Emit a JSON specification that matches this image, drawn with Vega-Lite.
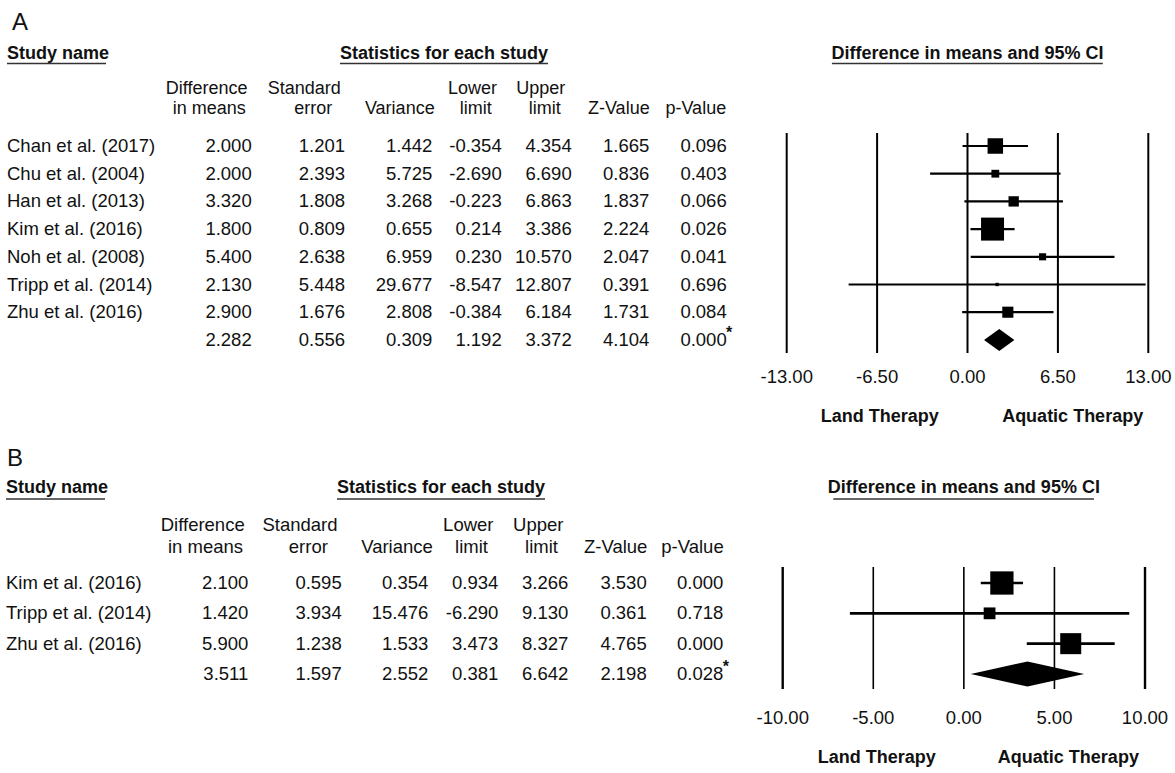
{
  "$schema": "https://vega.github.io/schema/vega-lite/v6.json",
  "padding": 0,
  "spacing": 0,
  "background": "white",
  "config": {
    "view": {"stroke": null},
    "mark": {"color": "black"},
    "text": {"font": "Liberation Sans", "fontSize": 18.5, "baseline": "middle", "color": "#111111"},
    "axis": {"disable": true},
    "legend": {"disable": true},
    "locale": {"number": {"decimal": ".", "thousands": ",", "grouping": [3], "currency": ["$", ""], "minus": "-"}}
  },
  "datasets": {
    "one": [{}],
    "A": [
      {"study": "Chan et al. (2017)", "diff": 2.000, "se": 1.201, "var": 1.442, "lower": -0.354, "upper": 4.354, "z": 1.665, "p": 0.096, "weight": 21.4, "summary": false},
      {"study": "Chu et al. (2004)", "diff": 2.000, "se": 2.393, "var": 5.725, "lower": -2.690, "upper": 6.690, "z": 0.836, "p": 0.403, "weight": 5.4, "summary": false},
      {"study": "Han et al. (2013)", "diff": 3.320, "se": 1.808, "var": 3.268, "lower": -0.223, "upper": 6.863, "z": 1.837, "p": 0.066, "weight": 9.5, "summary": false},
      {"study": "Kim et al. (2016)", "diff": 1.800, "se": 0.809, "var": 0.655, "lower": 0.214, "upper": 3.386, "z": 2.224, "p": 0.026, "weight": 47.2, "summary": false},
      {"study": "Noh et al. (2008)", "diff": 5.400, "se": 2.638, "var": 6.959, "lower": 0.230, "upper": 10.570, "z": 2.047, "p": 0.041, "weight": 4.5, "summary": false},
      {"study": "Tripp et al. (2014)", "diff": 2.130, "se": 5.448, "var": 29.677, "lower": -8.547, "upper": 12.807, "z": 0.391, "p": 0.696, "weight": 1.0, "summary": false},
      {"study": "Zhu et al. (2016)", "diff": 2.900, "se": 1.676, "var": 2.808, "lower": -0.384, "upper": 6.184, "z": 1.731, "p": 0.084, "weight": 11.0, "summary": false},
      {"study": "", "diff": 2.282, "se": 0.556, "var": 0.309, "lower": 1.192, "upper": 3.372, "z": 4.104, "p": 0.000, "sig": "*", "summary": true}
    ],
    "B": [
      {"study": "Kim et al. (2016)", "diff": 2.100, "se": 0.595, "var": 0.354, "lower": 0.934, "upper": 3.266, "z": 3.530, "p": 0.000, "weight": 48.3, "summary": false},
      {"study": "Tripp et al. (2014)", "diff": 1.420, "se": 3.934, "var": 15.476, "lower": -6.290, "upper": 9.130, "z": 0.361, "p": 0.718, "weight": 12.4, "summary": false},
      {"study": "Zhu et al. (2016)", "diff": 5.900, "se": 1.238, "var": 1.533, "lower": 3.473, "upper": 8.327, "z": 4.765, "p": 0.000, "weight": 39.4, "summary": false},
      {"study": "", "diff": 3.511, "se": 1.597, "var": 2.552, "lower": 0.381, "upper": 6.642, "z": 2.198, "p": 0.028, "sig": "*", "summary": true}
    ],
    "ticksA": [{"t": -13}, {"t": -6.5}, {"t": 0}, {"t": 6.5}, {"t": 13}],
    "ticksB": [{"t": -10}, {"t": -5}, {"t": 0}, {"t": 5}, {"t": 10}]
  },
  "vconcat": [
    {
      "width": 1175,
      "height": 440,
      "resolve": {"scale": {"x": "independent"}},
      "layer": [
        {
          "layer": [
            {"data": {"name": "one"}, "mark": {"type": "text", "align": "left", "fontSize": 24}, "encoding": {"x": {"datum": 12, "type": "quantitative", "scale": {"domain": [0, 1175], "nice": false, "zero": false}}, "y": {"datum": -3.4404, "type": "quantitative", "scale": {"domain": [-4.2708, 11.6137], "reverse": true, "nice": false, "zero": false}}, "text": {"value": "A"}}},
            {"data": {"name": "one"}, "mark": {"type": "text", "align": "left", "fontWeight": "bold", "fontSize": 18}, "encoding": {"x": {"datum": 7, "type": "quantitative"}, "y": {"datum": -2.3213, "type": "quantitative"}, "text": {"value": "Study name"}}},
            {"data": {"name": "one"}, "mark": {"type": "rule", "strokeWidth": 1.5, "color": "#333333"}, "encoding": {"x": {"datum": 7, "type": "quantitative"}, "x2": {"datum": 106}, "y": {"datum": -1.9783, "type": "quantitative"}}},
            {"data": {"name": "one"}, "mark": {"type": "text", "fontWeight": "bold", "fontSize": 18}, "encoding": {"x": {"datum": 444, "type": "quantitative"}, "y": {"datum": -2.3213, "type": "quantitative"}, "text": {"value": "Statistics for each study"}}},
            {"data": {"name": "one"}, "mark": {"type": "rule", "strokeWidth": 1.5, "color": "#333333"}, "encoding": {"x": {"datum": 340, "type": "quantitative"}, "x2": {"datum": 548}, "y": {"datum": -1.9783, "type": "quantitative"}}},
            {"data": {"name": "one"}, "mark": {"type": "text", "fontSize": 18}, "encoding": {"x": {"datum": 206.7, "type": "quantitative"}, "y": {"datum": -1.0578, "type": "quantitative"}, "text": {"value": "Difference"}}},
            {"data": {"name": "one"}, "mark": {"type": "text", "fontSize": 18}, "encoding": {"x": {"datum": 209.2, "type": "quantitative"}, "y": {"datum": -0.3538, "type": "quantitative"}, "text": {"value": "in means"}}},
            {"data": {"name": "one"}, "mark": {"type": "text", "fontSize": 18}, "encoding": {"x": {"datum": 304.2, "type": "quantitative"}, "y": {"datum": -1.0578, "type": "quantitative"}, "text": {"value": "Standard"}}},
            {"data": {"name": "one"}, "mark": {"type": "text", "fontSize": 18}, "encoding": {"x": {"datum": 313.3, "type": "quantitative"}, "y": {"datum": -0.3538, "type": "quantitative"}, "text": {"value": "error"}}},
            {"data": {"name": "one"}, "mark": {"type": "text", "fontSize": 18}, "encoding": {"x": {"datum": 399.8, "type": "quantitative"}, "y": {"datum": -0.3538, "type": "quantitative"}, "text": {"value": "Variance"}}},
            {"data": {"name": "one"}, "mark": {"type": "text", "fontSize": 18}, "encoding": {"x": {"datum": 472.5, "type": "quantitative"}, "y": {"datum": -1.0578, "type": "quantitative"}, "text": {"value": "Lower"}}},
            {"data": {"name": "one"}, "mark": {"type": "text", "fontSize": 18}, "encoding": {"x": {"datum": 475.8, "type": "quantitative"}, "y": {"datum": -0.3538, "type": "quantitative"}, "text": {"value": "limit"}}},
            {"data": {"name": "one"}, "mark": {"type": "text", "fontSize": 18}, "encoding": {"x": {"datum": 540.8, "type": "quantitative"}, "y": {"datum": -1.0578, "type": "quantitative"}, "text": {"value": "Upper"}}},
            {"data": {"name": "one"}, "mark": {"type": "text", "fontSize": 18}, "encoding": {"x": {"datum": 544.7, "type": "quantitative"}, "y": {"datum": -0.3538, "type": "quantitative"}, "text": {"value": "limit"}}},
            {"data": {"name": "one"}, "mark": {"type": "text", "fontSize": 18}, "encoding": {"x": {"datum": 618.8, "type": "quantitative"}, "y": {"datum": -0.3538, "type": "quantitative"}, "text": {"value": "Z-Value"}}},
            {"data": {"name": "one"}, "mark": {"type": "text", "fontSize": 18}, "encoding": {"x": {"datum": 695.8, "type": "quantitative"}, "y": {"datum": -0.3538, "type": "quantitative"}, "text": {"value": "p-Value"}}},
            {
              "data": {"name": "A"},
              "transform": [{"window": [{"op": "row_number", "as": "row"}]}],
              "encoding": {"y": {"field": "row", "type": "quantitative"}},
              "layer": [
                {"mark": {"type": "text", "align": "left"}, "encoding": {"x": {"datum": 7, "type": "quantitative"}, "text": {"field": "study", "type": "nominal"}}},
                {"mark": {"type": "text", "align": "right"}, "encoding": {"x": {"datum": 251.7, "type": "quantitative"}, "text": {"field": "diff", "type": "quantitative", "format": ".3f"}}},
                {"mark": {"type": "text", "align": "right"}, "encoding": {"x": {"datum": 345, "type": "quantitative"}, "text": {"field": "se", "type": "quantitative", "format": ".3f"}}},
                {"mark": {"type": "text", "align": "right"}, "encoding": {"x": {"datum": 432.3, "type": "quantitative"}, "text": {"field": "var", "type": "quantitative", "format": ".3f"}}},
                {"mark": {"type": "text", "align": "right"}, "encoding": {"x": {"datum": 501.7, "type": "quantitative"}, "text": {"field": "lower", "type": "quantitative", "format": ".3f"}}},
                {"mark": {"type": "text", "align": "right"}, "encoding": {"x": {"datum": 571.7, "type": "quantitative"}, "text": {"field": "upper", "type": "quantitative", "format": ".3f"}}},
                {"mark": {"type": "text", "align": "right"}, "encoding": {"x": {"datum": 649.3, "type": "quantitative"}, "text": {"field": "z", "type": "quantitative", "format": ".3f"}}},
                {"mark": {"type": "text", "align": "right"}, "encoding": {"x": {"datum": 726.7, "type": "quantitative"}, "text": {"field": "p", "type": "quantitative", "format": ".3f"}}},
                {"transform": [{"filter": "datum.summary"}], "mark": {"type": "text", "align": "left", "fontSize": 16, "fontWeight": "bold", "dy": -7}, "encoding": {"x": {"datum": 726, "type": "quantitative"}, "text": {"field": "sig", "type": "nominal"}}}
              ]
            }
          ]
        },
        {
          "layer": [
            {"data": {"name": "ticksA"}, "mark": {"type": "rule", "strokeWidth": 2, "color": "black"}, "encoding": {"x": {"field": "t", "type": "quantitative", "scale": {"domain": [-13, 13], "range": [786.7, 1148.3], "nice": false, "zero": false}}, "y": {"datum": 0.5307, "type": "quantitative", "scale": {"domain": [-4.2708, 11.6137], "reverse": true, "nice": false, "zero": false}}, "y2": {"datum": 8.4729}}},
            {"data": {"name": "ticksA"}, "mark": {"type": "text"}, "encoding": {"x": {"field": "t", "type": "quantitative"}, "y": {"datum": 9.3394, "type": "quantitative"}, "text": {"field": "t", "type": "quantitative", "format": ".2f"}}},
            {"data": {"name": "A"}, "transform": [{"window": [{"op": "row_number", "as": "row"}]}, {"filter": "!datum.summary"}], "mark": {"type": "rule", "strokeWidth": 2.2, "color": "black"}, "encoding": {"x": {"field": "lower", "type": "quantitative"}, "x2": {"field": "upper"}, "y": {"field": "row", "type": "quantitative"}}},
            {"data": {"name": "A"}, "transform": [{"window": [{"op": "row_number", "as": "row"}]}, {"filter": "!datum.summary"}], "mark": {"type": "square", "filled": true, "color": "black", "opacity": 1}, "encoding": {"x": {"field": "diff", "type": "quantitative"}, "y": {"field": "row", "type": "quantitative"}, "size": {"field": "weight", "type": "quantitative", "scale": {"domain": [0, 100], "range": [0, 1121], "zero": true}, "legend": null}}},
            {"data": {"name": "A"}, "transform": [{"window": [{"op": "row_number", "as": "row"}]}, {"filter": "datum.summary"}], "mark": {"type": "point", "shape": "M-1,0L0,-0.726L1,0L0,0.726Z", "size": 918, "filled": true, "opacity": 1, "color": "black"}, "encoding": {"x": {"field": "diff", "type": "quantitative"}, "y": {"field": "row", "type": "quantitative"}}},
            {"data": {"name": "one"}, "mark": {"type": "text", "fontWeight": "bold", "fontSize": 18}, "encoding": {"x": {"datum": 0, "type": "quantitative"}, "y": {"datum": -2.3213, "type": "quantitative"}, "text": {"value": "Difference in means and 95% CI"}}},
            {"data": {"name": "one"}, "mark": {"type": "rule", "strokeWidth": 1.5, "color": "#333333"}, "encoding": {"x": {"datum": -9.75, "type": "quantitative"}, "x2": {"datum": 9.73}, "y": {"datum": -1.9783, "type": "quantitative"}}},
            {"data": {"name": "one"}, "mark": {"type": "text", "fontWeight": "bold", "fontSize": 18}, "encoding": {"x": {"datum": -6.31, "type": "quantitative"}, "y": {"datum": 10.7834, "type": "quantitative"}, "text": {"value": "Land Therapy"}}},
            {"data": {"name": "one"}, "mark": {"type": "text", "fontWeight": "bold", "fontSize": 18}, "encoding": {"x": {"datum": 7.56, "type": "quantitative"}, "y": {"datum": 10.7834, "type": "quantitative"}, "text": {"value": "Aquatic Therapy"}}}
          ]
        }
      ]
    },
    {
      "width": 1175,
      "height": 333,
      "resolve": {"scale": {"x": "independent"}},
      "layer": [
        {
          "layer": [
            {"data": {"name": "one"}, "mark": {"type": "text", "align": "left", "fontSize": 24}, "encoding": {"x": {"datum": 7, "type": "quantitative", "scale": {"domain": [0, 1175], "nice": false, "zero": false}}, "y": {"datum": -3.0884, "type": "quantitative", "scale": {"domain": [-3.7148, 7.2644], "reverse": true, "nice": false, "zero": false}}, "text": {"value": "B"}}},
            {"data": {"name": "one"}, "mark": {"type": "text", "align": "left", "fontWeight": "bold", "fontSize": 18}, "encoding": {"x": {"datum": 6, "type": "quantitative"}, "y": {"datum": -2.1322, "type": "quantitative"}, "text": {"value": "Study name"}}},
            {"data": {"name": "one"}, "mark": {"type": "rule", "strokeWidth": 1.5, "color": "#333333"}, "encoding": {"x": {"datum": 6, "type": "quantitative"}, "x2": {"datum": 105}, "y": {"datum": -1.7695, "type": "quantitative"}}},
            {"data": {"name": "one"}, "mark": {"type": "text", "fontWeight": "bold", "fontSize": 18}, "encoding": {"x": {"datum": 441, "type": "quantitative"}, "y": {"datum": -2.1322, "type": "quantitative"}, "text": {"value": "Statistics for each study"}}},
            {"data": {"name": "one"}, "mark": {"type": "rule", "strokeWidth": 1.5, "color": "#333333"}, "encoding": {"x": {"datum": 337, "type": "quantitative"}, "x2": {"datum": 545}, "y": {"datum": -1.7695, "type": "quantitative"}}},
            {"data": {"name": "one"}, "mark": {"type": "text"}, "encoding": {"x": {"datum": 202.7, "type": "quantitative"}, "y": {"datum": -0.9123, "type": "quantitative"}, "text": {"value": "Difference"}}},
            {"data": {"name": "one"}, "mark": {"type": "text"}, "encoding": {"x": {"datum": 205.5, "type": "quantitative"}, "y": {"datum": -0.1869, "type": "quantitative"}, "text": {"value": "in means"}}},
            {"data": {"name": "one"}, "mark": {"type": "text"}, "encoding": {"x": {"datum": 300, "type": "quantitative"}, "y": {"datum": -0.9123, "type": "quantitative"}, "text": {"value": "Standard"}}},
            {"data": {"name": "one"}, "mark": {"type": "text"}, "encoding": {"x": {"datum": 308.3, "type": "quantitative"}, "y": {"datum": -0.1869, "type": "quantitative"}, "text": {"value": "error"}}},
            {"data": {"name": "one"}, "mark": {"type": "text"}, "encoding": {"x": {"datum": 397, "type": "quantitative"}, "y": {"datum": -0.1869, "type": "quantitative"}, "text": {"value": "Variance"}}},
            {"data": {"name": "one"}, "mark": {"type": "text"}, "encoding": {"x": {"datum": 468.3, "type": "quantitative"}, "y": {"datum": -0.9123, "type": "quantitative"}, "text": {"value": "Lower"}}},
            {"data": {"name": "one"}, "mark": {"type": "text"}, "encoding": {"x": {"datum": 471.5, "type": "quantitative"}, "y": {"datum": -0.1869, "type": "quantitative"}, "text": {"value": "limit"}}},
            {"data": {"name": "one"}, "mark": {"type": "text"}, "encoding": {"x": {"datum": 538.3, "type": "quantitative"}, "y": {"datum": -0.9123, "type": "quantitative"}, "text": {"value": "Upper"}}},
            {"data": {"name": "one"}, "mark": {"type": "text"}, "encoding": {"x": {"datum": 541.5, "type": "quantitative"}, "y": {"datum": -0.1869, "type": "quantitative"}, "text": {"value": "limit"}}},
            {"data": {"name": "one"}, "mark": {"type": "text"}, "encoding": {"x": {"datum": 615.7, "type": "quantitative"}, "y": {"datum": -0.1869, "type": "quantitative"}, "text": {"value": "Z-Value"}}},
            {"data": {"name": "one"}, "mark": {"type": "text"}, "encoding": {"x": {"datum": 692.5, "type": "quantitative"}, "y": {"datum": -0.1869, "type": "quantitative"}, "text": {"value": "p-Value"}}},
            {
              "data": {"name": "B"},
              "transform": [{"window": [{"op": "row_number", "as": "row"}]}],
              "encoding": {"y": {"field": "row", "type": "quantitative"}},
              "layer": [
                {"mark": {"type": "text", "align": "left"}, "encoding": {"x": {"datum": 6, "type": "quantitative"}, "text": {"field": "study", "type": "nominal"}}},
                {"mark": {"type": "text", "align": "right"}, "encoding": {"x": {"datum": 248.3, "type": "quantitative"}, "text": {"field": "diff", "type": "quantitative", "format": ".3f"}}},
                {"mark": {"type": "text", "align": "right"}, "encoding": {"x": {"datum": 341.7, "type": "quantitative"}, "text": {"field": "se", "type": "quantitative", "format": ".3f"}}},
                {"mark": {"type": "text", "align": "right"}, "encoding": {"x": {"datum": 428.3, "type": "quantitative"}, "text": {"field": "var", "type": "quantitative", "format": ".3f"}}},
                {"mark": {"type": "text", "align": "right"}, "encoding": {"x": {"datum": 498.3, "type": "quantitative"}, "text": {"field": "lower", "type": "quantitative", "format": ".3f"}}},
                {"mark": {"type": "text", "align": "right"}, "encoding": {"x": {"datum": 568.3, "type": "quantitative"}, "text": {"field": "upper", "type": "quantitative", "format": ".3f"}}},
                {"mark": {"type": "text", "align": "right"}, "encoding": {"x": {"datum": 646.7, "type": "quantitative"}, "text": {"field": "z", "type": "quantitative", "format": ".3f"}}},
                {"mark": {"type": "text", "align": "right"}, "encoding": {"x": {"datum": 723.3, "type": "quantitative"}, "text": {"field": "p", "type": "quantitative", "format": ".3f"}}},
                {"transform": [{"filter": "datum.summary"}], "mark": {"type": "text", "align": "left", "fontSize": 16, "fontWeight": "bold", "dy": -7}, "encoding": {"x": {"datum": 722.8, "type": "quantitative"}, "text": {"field": "sig", "type": "nominal"}}}
              ]
            }
          ]
        },
        {
          "layer": [
            {"data": {"name": "ticksB"}, "mark": {"type": "rule", "color": "black"}, "encoding": {"x": {"field": "t", "type": "quantitative", "scale": {"domain": [-10, 10], "range": [782.7, 1145], "nice": false, "zero": false}}, "y": {"datum": 0.4725, "type": "quantitative", "scale": {"domain": [-3.7148, 7.2644], "reverse": true, "nice": false, "zero": false}}, "y2": {"datum": 4.4949}, "strokeWidth": {"condition": {"test": "abs(datum.t) == 10", "value": 2.4}, "value": 1.6}}},
            {"data": {"name": "ticksB"}, "mark": {"type": "text"}, "encoding": {"x": {"field": "t", "type": "quantitative"}, "y": {"datum": 5.451, "type": "quantitative"}, "text": {"field": "t", "type": "quantitative", "format": ".2f"}}},
            {"data": {"name": "B"}, "transform": [{"window": [{"op": "row_number", "as": "row"}]}, {"filter": "!datum.summary"}], "mark": {"type": "rule", "strokeWidth": 2.6, "color": "black"}, "encoding": {"x": {"field": "lower", "type": "quantitative"}, "x2": {"field": "upper"}, "y": {"field": "row", "type": "quantitative"}}},
            {"data": {"name": "B"}, "transform": [{"window": [{"op": "row_number", "as": "row"}]}, {"filter": "!datum.summary"}], "mark": {"type": "square", "filled": true, "color": "black", "opacity": 1}, "encoding": {"x": {"field": "diff", "type": "quantitative"}, "y": {"field": "row", "type": "quantitative"}, "size": {"field": "weight", "type": "quantitative", "scale": {"domain": [0, 100], "range": [0, 1222], "zero": true}, "legend": null}}},
            {"data": {"name": "B"}, "transform": [{"window": [{"op": "row_number", "as": "row"}]}, {"filter": "datum.summary"}], "mark": {"type": "point", "shape": "M-1,0L0,-0.2205L1,0L0,0.2205Z", "size": 12860, "filled": true, "opacity": 1, "color": "black"}, "encoding": {"x": {"field": "diff", "type": "quantitative"}, "y": {"field": "row", "type": "quantitative"}}},
            {"data": {"name": "one"}, "mark": {"type": "text", "fontWeight": "bold", "fontSize": 18}, "encoding": {"x": {"datum": 0, "type": "quantitative"}, "y": {"datum": -2.1322, "type": "quantitative"}, "text": {"value": "Difference in means and 95% CI"}}},
            {"data": {"name": "one"}, "mark": {"type": "rule", "strokeWidth": 1.5, "color": "#333333"}, "encoding": {"x": {"datum": -7.21, "type": "quantitative"}, "x2": {"datum": 7.18}, "y": {"datum": -1.7695, "type": "quantitative"}}},
            {"data": {"name": "one"}, "mark": {"type": "text", "fontWeight": "bold", "fontSize": 18}, "encoding": {"x": {"datum": -4.81, "type": "quantitative"}, "y": {"datum": 6.7699, "type": "quantitative"}, "text": {"value": "Land Therapy"}}},
            {"data": {"name": "one"}, "mark": {"type": "text", "fontWeight": "bold", "fontSize": 18}, "encoding": {"x": {"datum": 5.77, "type": "quantitative"}, "y": {"datum": 6.7699, "type": "quantitative"}, "text": {"value": "Aquatic Therapy"}}}
          ]
        }
      ]
    }
  ]
}
